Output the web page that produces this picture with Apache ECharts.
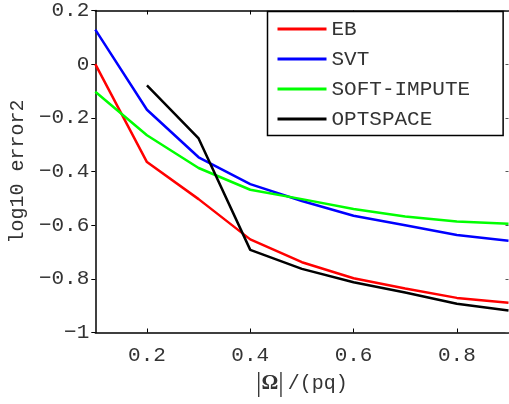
<!DOCTYPE html>
<html>
<head>
<meta charset="utf-8">
<script src="https://cdn.jsdelivr.net/npm/echarts@6/dist/echarts.min.js"></script>
<style>html,body{margin:0;padding:0;background:#fff;}#c{width:509px;height:404px;}</style>
</head>
<body>
<div id="c"></div>
<script>
const xValues = [0.1, 0.2, 0.3, 0.4, 0.5, 0.6, 0.7, 0.8, 0.9];
const ebValues = [0.0, -0.365, -0.503, -0.653, -0.738, -0.798, -0.836, -0.871, -0.889];
const svtValues = [0.129, -0.170, -0.347, -0.447, -0.510, -0.565, -0.600, -0.637, -0.658];
const softImputeValues = [-0.103, -0.265, -0.387, -0.468, -0.503, -0.540, -0.568, -0.586, -0.595];
const optspaceValues = [null, -0.079, -0.277, -0.692, -0.763, -0.813, -0.851, -0.893, -0.918];
const seriesNames = ['EB', 'SVT', 'SOFT-IMPUTE', 'OPTSPACE'];
const xTickLabels = [0.2, 0.4, 0.6, 0.8];
const yTickLabels = [-1, -0.8, -0.6, -0.4, -0.2, 0, 0.2];

const MONO = '"Liberation Mono", "DejaVu Sans Mono", monospace';
const colors = ['#ff0000', '#0000ff', '#00ff00', '#000000'];
const allSeries = [ebValues, svtValues, softImputeValues, optspaceValues];

function pairs(vals) { return xValues.map((x, i) => [x, vals[i]]); }
function fmt(v) { return String(Math.round(v * 10) / 10).replace('-', '\u2212'); }

const chart = echarts.init(document.getElementById('c'), null, { renderer: 'canvas' });
const axisLine = { show: true, onZero: false, lineStyle: { color: '#000', width: 1.5 } };
chart.setOption({
  animation: false,
  backgroundColor: '#fff',
  grid: { left: 88, top: 4.5, right: 0.5, bottom: 71.5, containLabel: false },
  xAxis: [{
    type: 'value', min: 0.1, max: 0.9, position: 'bottom',
    axisLine: axisLine,
    axisTick: { show: true, inside: true, length: 4, customValues: xTickLabels, lineStyle: { color: '#000', width: 1 } },
    axisLabel: { customValues: xTickLabels, formatter: fmt, margin: 12, color: '#333', fontFamily: MONO, fontSize: 21 },
    splitLine: { show: false },
    name: '{b||}{o|\u03A9}{b||}{m|/(pq)}',
    nameLocation: 'middle', nameGap: 38,
    nameTextStyle: {
      rich: {
        b: { fontFamily: '"Liberation Serif", serif', fontSize: 27, color: '#333' },
        o: { fontFamily: '"Liberation Serif", serif', fontSize: 21, fontWeight: 'bold', color: '#333' },
        m: { fontFamily: MONO, fontSize: 20, color: '#333', padding: [0, 0, 0, 4] }
      }
    }
  }, {
    type: 'value', min: 0.1, max: 0.9, position: 'top',
    axisLine: axisLine,
    axisTick: { show: true, inside: true, length: 4, customValues: xTickLabels, lineStyle: { color: '#000', width: 1 } },
    axisLabel: { show: false },
    splitLine: { show: false }
  }],
  yAxis: [{
    type: 'value', min: -1, max: 0.2, interval: 0.2, position: 'left',
    axisLine: axisLine,
    axisTick: { show: true, inside: false, length: 4, lineStyle: { color: '#000', width: 1 } },
    axisLabel: { formatter: fmt, margin: 6, color: '#333', fontFamily: MONO, fontSize: 21 },
    splitLine: { show: false },
    name: 'log10 error2', nameLocation: 'middle', nameGap: 62, nameRotate: 90,
    nameTextStyle: { fontFamily: MONO, fontSize: 20, color: '#333' }
  }, {
    type: 'value', min: -1, max: 0.2, interval: 0.2, position: 'right',
    axisLine: { show: false, onZero: false },
    axisTick: { show: true, inside: true, length: 3, lineStyle: { color: '#555', width: 1 } },
    axisLabel: { show: false },
    splitLine: { show: false }
  }],
  legend: {
    orient: 'vertical', left: 267.5, top: 11.5,
    padding: [7, 33, 6, 10], itemGap: 9,
    itemWidth: 49, itemHeight: 3, icon: 'rect',
    borderColor: '#000', borderWidth: 1.5, backgroundColor: '#fff', borderRadius: 0,
    textStyle: { fontFamily: MONO, fontSize: 21, color: '#333', lineHeight: 20 },
    data: seriesNames
  },
  series: seriesNames.map((name, i) => ({
    name: name, type: 'line', data: pairs(allSeries[i]),
    xAxisIndex: 0, yAxisIndex: 0,
    showSymbol: false, symbol: 'none', connectNulls: false,
    lineStyle: { color: colors[i], width: 2.5 },
    itemStyle: { color: colors[i] },
    z: 2 + i
  }))
});
</script>
</body>
</html>
